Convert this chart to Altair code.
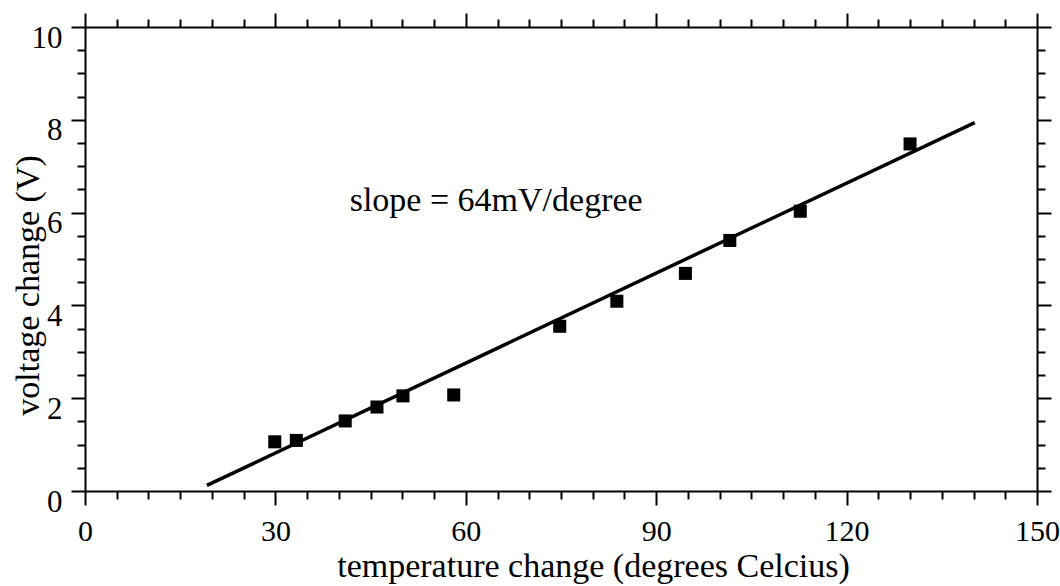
import altair as alt
import pandas as pd

# data
temp = [29.9, 33.3, 41.0, 46.0, 50.1, 58.1, 74.8, 83.8, 94.6, 101.6, 112.7, 130.0]
volt = [1.06, 1.09, 1.51, 1.81, 2.05, 2.07, 3.55, 4.09, 4.69, 5.40, 6.03, 7.48]
fit_temp = [19.2, 140.2]
fit_volt = [0.12, 7.94]
x_ticks = list(range(0, 151, 5))
y_ticks = [i * 0.5 for i in range(21)]
note_text = ["slope = 64mV/degree"]
note_x = [41.7]
note_y = [6.26]

FONT = "Liberation Serif"

pts = pd.DataFrame({"t": temp, "v": volt})
fit = pd.DataFrame({"t": fit_temp, "v": fit_volt})
note = pd.DataFrame({"t": note_x, "v": note_y, "label": note_text})

xs = alt.Scale(domain=[0, 150], nice=False, zero=False)
ys = alt.Scale(domain=[0, 10], nice=False, zero=False)

x_tick_size = {"condition": {"test": "datum.value % 30 === 0", "value": 14}, "value": 8}
y_tick_size = {"condition": {"test": "datum.value % 2 === 0", "value": 14}, "value": 8}

x_bottom = alt.Axis(
    orient="bottom", values=x_ticks,
    labelExpr="datum.value % 30 === 0 ? format(datum.value, 'd') : ''",
    tickSize=x_tick_size, labelPadding=11, labelFontSize=30,
    title="temperature change (degrees Celcius)",
    titleX=508, titleY=75, titleBaseline="middle", titleAlign="center",
)
x_top = alt.Axis(orient="top", values=x_ticks, labels=False, title=None, tickSize=x_tick_size)
y_left = alt.Axis(
    orient="left", values=y_ticks,
    labelExpr="datum.value % 2 === 0 ? format(datum.value, 'd') : ''",
    tickSize=y_tick_size, labelPadding=9, labelBaseline="top", labelOffset=-4,
    title="voltage change (V)",
    titleX=-57, titleY=258, titleBaseline="middle", titleAlign="center", titleAngle=270,
)
y_right = alt.Axis(orient="right", values=y_ticks, labels=False, title=None, tickSize=y_tick_size)

line = alt.Chart(fit).mark_line(color="black", strokeWidth=3.5).encode(
    x=alt.X("t:Q", scale=xs, axis=x_top),
    y=alt.Y("v:Q", scale=ys, axis=y_right),
)
points = alt.Chart(pts).mark_square(size=170, color="black", opacity=1, filled=True).encode(
    x=alt.X("t:Q", scale=xs, axis=x_bottom),
    y=alt.Y("v:Q", scale=ys, axis=y_left),
)
text = alt.Chart(note).mark_text(
    align="left", baseline="middle", font=FONT, fontSize=34, color="black"
).encode(
    x=alt.X("t:Q", scale=xs, axis=None),
    y=alt.Y("v:Q", scale=ys, axis=None),
    text="label:N",
)

chart = (
    alt.layer(line, points, text)
    .resolve_axis(x="independent", y="independent")
    .properties(
        width=952, height=464,
        autosize=alt.AutoSizeParams(type="none"),
        padding={"left": 85, "top": 27, "right": 23, "bottom": 95},
        background="white",
    )
    .configure_view(stroke=None)
    .configure_axis(
        domainColor="black", domainWidth=2, tickColor="black", tickWidth=2,
        grid=False, labelColor="black", labelFont=FONT, labelFontSize=31,
        titleFont=FONT, titleFontSize=34, titleFontWeight="normal", titleColor="black",
        labelOverlap=False, labelFlush=False, labelBound=False,
    )
)

chart.save("out.html", embed_options={"renderer": "svg", "actions": False})
